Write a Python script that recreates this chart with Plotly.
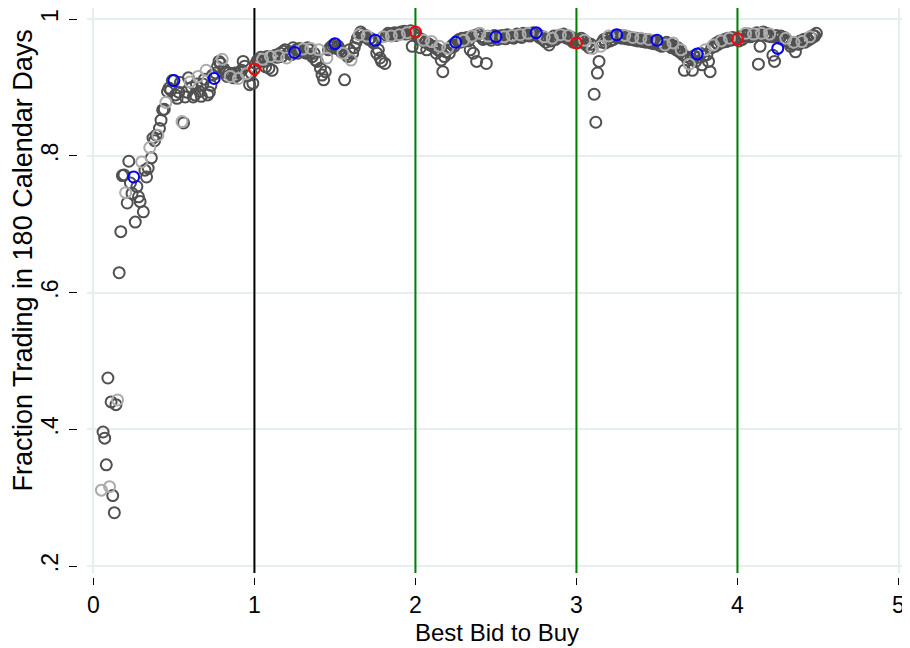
import numpy as np
import plotly.graph_objects as go

# Fraction trading in 180 calendar days by best bid to buy (bid grid step 0.01)
start_a = 0.05
y_a = [.311, .396, .387, .348, .475,
       .316, .440, .303, .278, .436, .443, .629, .689, .771, .772,
       .746, .731, .792, .760, .745, .769, .703, .755, .740, .733,
       .791, .718, .779, .769, .782, .812, .797, .826, .822, .830,
       .830, .840, .852, .867, .868, .878, .894, .899, .896, .910,
       .910, .889, .884, .893, .907, .850, .848, .886, .893, .914,
       .908, .900, .886, .889, .905, .916, .894, .887, .905, .912,
       .925, .889, .893, .903, .918, .913, .921, .930, .938, .935,
       .941, .927, .922, .916, .921, .916, .920, .914, .921, .917,
       .913, .922, .925, .938, .931, .920, .917, .904, .921, .906]

start_b = 1.00
y_b = [.927, .935, .940, .938, .944, .941, .938, .930, .945, .928,
       .945, .925, .946, .947, .944, .946, .950, .945, .953, .955,
       .943, .950, .952, .948, .958, .951, .955, .950, .957, .953,
       .956, .952, .950, .958, .955, .957, .945, .950, .940, .938,
       .955, .928, .918, .911, .923, .943, .955, .958, .960, .962,
       .964, .957, .960, .955, .952, .950, .911, .948, .945, .955,
       .940, .950, .958, .965, .972, .977, .981, .978, .974, .976,
       .975, .970, .972, .968, .965, .969, .950, .955, .943, .938,
       .974, .935, .976, .979, .977, .975, .978, .980, .976, .979,
       .977, .981, .979, .982, .978, .980, .979, .983, .960, .979]

start_c = 2.00
y_c = [.981, .975, .972, .958, .970, .969, .966, .955, .964, .962,
       .967, .960, .958, .950, .955, .960, .940, .923, .945, .952,
       .957, .950, .958, .962, .960, .966, .968, .970, .966, .972,
       .969, .971, .973, .968, .955, .975, .950, .976, .938, .978,
       .979, .974, .970, .972, .935, .975, .972, .969, .973, .976,
       .974, .970, .975, .972, .976, .974, .971, .977, .973, .975,
       .976, .972, .974, .978, .975, .977, .973, .979, .976, .978,
       .979, .975, .977, .980, .978, .980, .976, .973, .975, .970,
       .974, .966, .971, .962, .968, .972, .975, .970, .973, .976,
       .977, .974, .978, .975, .972, .976, .970, .973, .966, .969]

start_d = 3.00
y_d = [.965, .970, .966, .972, .968, .969, .962, .965, .958, .963,
       .957, .890, .849, .921, .938, .960, .966, .970, .965, .972,
       .975, .968, .974, .970, .976, .977, .973, .976, .972, .975,
       .976, .971, .974, .970, .973, .973, .969, .972, .968, .971,
       .972, .967, .970, .966, .969, .970, .965, .968, .964, .967,
       .969, .962, .965, .960, .963, .962, .966, .961, .964, .958,
       .965, .960, .955, .958, .952, .955, .948, .925, .945, .940,
       .934, .942, .925, .946, .938, .949, .944, .950, .933, .946,
       .955, .948, .938, .923, .958, .962, .960, .965, .963, .968,
       .968, .966, .970, .967, .972, .972, .969, .973, .970, .972]

start_e = 4.00
y_e = [.971, .968, .974, .970, .976, .979, .975, .978, .974, .977,
       .978, .976, .980, .934, .960, .979, .981, .977, .979, .975,
       .978, .974, .947, .938, .976, .957, .972, .975, .970, .973,
       .972, .968, .965, .960, .963, .966, .952, .966, .963, .968,
       .967, .970, .966, .971, .969, .974, .972, .976, .975, .979]

y_ticks = [0.2, 0.4, 0.6, 0.8, 1.0]
y_ticktext = [".2", ".4", ".6", ".8", "1"]
x_ticks = [0, 1, 2, 3, 4, 5]
ref_lines = [1, 2, 3, 4]
x_title = "Best Bid to Buy"
y_title = "Fraction Trading in 180 Calendar Days"

xs, ys = [], []
for s, arr in [(start_a, y_a), (start_b, y_b), (start_c, y_c), (start_d, y_d), (start_e, y_e)]:
    for i, v in enumerate(arr):
        xs.append(round(s + 0.01 * i, 2))
        ys.append(v)
xs = np.array(xs)
ys = np.array(ys)
cents = np.round(xs * 100).astype(int)

is_red = cents % 100 == 0
is_blue = (cents % 25 == 0) & ~is_red
is_light = (cents % 5 == 0) & ~is_red & ~is_blue
is_dark = ~(is_red | is_blue | is_light)

Y_RANGE = [0.1898, 1.0161]

fig = go.Figure()

# reference vertical lines drawn beneath the markers
for v in ref_lines:
    fig.add_trace(go.Scatter(
        x=[v, v], y=Y_RANGE, mode="lines",
        line=dict(color="black" if v == 1 else "#008000", width=2),
        showlegend=False, hoverinfo="skip"))

groups = [(is_dark, "#505050"), (is_light, "#ababab"), (is_blue, "#0000ff"), (is_red, "#ff0000")]
for mask, col in groups:
    fig.add_trace(go.Scatter(
        x=xs[mask], y=ys[mask], mode="markers",
        marker=dict(symbol="circle-open", size=11, color=col, line=dict(width=2, color=col)),
        showlegend=False, hoverinfo="skip"))

font = "Liberation Sans, Arial, sans-serif"
fig.update_layout(
    width=902, height=640,
    margin=dict(l=69, r=2, t=0, b=71),
    paper_bgcolor="white", plot_bgcolor="white",
    font=dict(family=font, size=23, color="black"),
    xaxis=dict(domain=[0.012, 1], range=[-0.04, 5.059], tickvals=x_ticks,
               ticks="outside", ticklen=7, tickwidth=1.2, tickcolor="black",
               showgrid=True, gridcolor="#e6eef1", gridwidth=1.5, zeroline=False, showline=False,
               anchor="free", position=0, automargin=False, tickfont=dict(size=23)),
    yaxis=dict(domain=[0.007, 1], range=Y_RANGE, tickvals=y_ticks, ticktext=y_ticktext,
               tickangle=-90, ticks="outside", ticklen=8, tickwidth=1.2, tickcolor="black",
               showgrid=True, gridcolor="#e6eef1", gridwidth=1.5, zeroline=False, showline=False,
               anchor="free", position=0, automargin=False, tickfont=dict(size=23),
               ticklabelstandoff=2),
    annotations=[
        dict(text=x_title, xref="paper", yref="paper", x=0.5 * (0.012 + 1), y=0,
             xanchor="center", yanchor="middle", yshift=-55, showarrow=False,
             font=dict(size=24)),
        dict(text=y_title, xref="paper", yref="paper", x=0, y=0.5, textangle=-90,
             xanchor="center", yanchor="middle", xshift=-55, yshift=32, showarrow=False,
             font=dict(size=27)),
    ],
)

fig.write_html("out.html")
